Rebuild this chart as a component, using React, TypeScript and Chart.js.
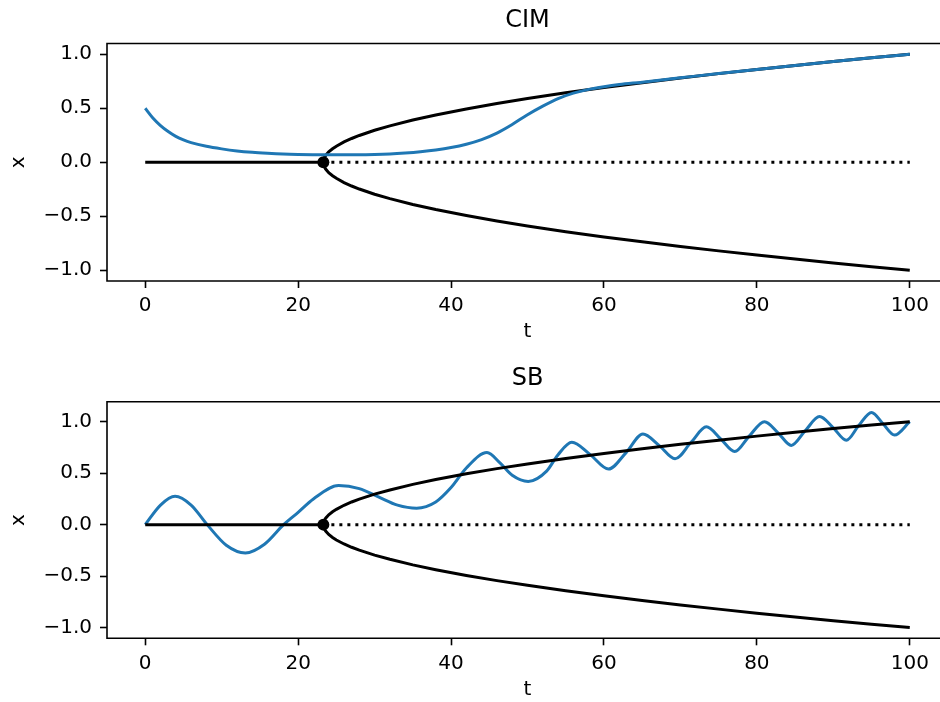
import React, { useEffect, useRef } from "react";
import { Chart, registerables } from "chart.js";

Chart.register(...registerables);

// ---- data ----
const xTicks = [0, 20, 40, 60, 80, 100];
const yTicks = [-1, -0.5, 0, 0.5, 1];

const bifT = 23.3;
const stableT = [0, 23.3];
const stableX = [0, 0];
const unstableT = [23.3, 100];
const unstableX = [0, 0];

const branchT = [23.3, 23.4, 23.6, 24, 24.5, 25, 26, 27, 28, 30, 32, 35, 38, 42, 46, 50, 55, 60, 65, 70, 75, 80, 85, 90, 95, 100];
const branchUpper = [0, 0.036, 0.063, 0.096, 0.125, 0.149, 0.188, 0.22, 0.248, 0.296, 0.337, 0.391, 0.438, 0.494, 0.544, 0.59, 0.643, 0.692, 0.737, 0.78, 0.821, 0.86, 0.897, 0.933, 0.967, 1.0];
const branchLower = [0, -0.036, -0.063, -0.096, -0.125, -0.149, -0.188, -0.22, -0.248, -0.296, -0.337, -0.391, -0.438, -0.494, -0.544, -0.59, -0.643, -0.692, -0.737, -0.78, -0.821, -0.86, -0.897, -0.933, -0.967, -1.0];

const cimT = [0, 1, 2, 3, 4, 5, 6, 8, 10, 12, 14, 16, 18, 20, 22, 24, 26, 28, 30, 32, 34, 36, 38, 40, 42, 44, 46, 48, 50, 52, 54, 56, 58, 60, 62, 65, 70, 75, 80, 85, 90, 95, 100];
const cimX = [0.5, 0.41, 0.34, 0.285, 0.24, 0.207, 0.182, 0.148, 0.124, 0.105, 0.092, 0.083, 0.076, 0.072, 0.07, 0.069, 0.069, 0.07, 0.072, 0.077, 0.086, 0.098, 0.114, 0.136, 0.167, 0.21, 0.27, 0.35, 0.44, 0.52, 0.59, 0.64, 0.675, 0.7, 0.72, 0.742, 0.782, 0.822, 0.86, 0.897, 0.933, 0.967, 1.0];

const sbT = [0, 2, 3.9, 6, 8.1, 10.6, 13.1, 15.6, 18.1, 20, 22, 25.3, 28, 30.5, 33, 35.5, 38, 40, 42, 44.7, 46.4, 48, 50.1, 52.5, 54, 55.8, 58.2, 60.6, 62.9, 65.1, 67.2, 69.3, 71.4, 73.4, 75.3, 77.1, 79, 81, 82.8, 84.5, 86.3, 88.2, 90, 91.7, 93.3, 95, 96.5, 98, 100];
const sbX = [0, 0.19, 0.275, 0.19, 0, -0.2, -0.275, -0.19, 0, 0.12, 0.25, 0.38, 0.35, 0.27, 0.19, 0.16, 0.22, 0.36, 0.55, 0.7, 0.6, 0.48, 0.42, 0.52, 0.68, 0.8, 0.68, 0.54, 0.7, 0.88, 0.77, 0.64, 0.8, 0.95, 0.83, 0.71, 0.86, 1.0, 0.89, 0.77, 0.91, 1.05, 0.94, 0.82, 0.96, 1.09, 0.98, 0.87, 1.0];

const BLUE = "#1f77b4";
const FONT = "DejaVu Sans";

const pts = (ts: number[], vs: number[]) => ts.map((t, i) => ({ x: t, y: vs[i] }));

// top, left and bottom spines (the right spine lies past the cropped edge)
const framePlugin = {
  id: "frame",
  afterDraw(chart: any) {
    const { ctx, chartArea } = chart;
    const { left, right, top, bottom } = chartArea;
    ctx.save();
    ctx.strokeStyle = "#000";
    ctx.lineWidth = 1.6;
    ctx.beginPath();
    ctx.moveTo(right + 1, top);
    ctx.lineTo(left, top);
    ctx.lineTo(left, bottom);
    ctx.lineTo(right + 1, bottom);
    ctx.stroke();
    ctx.restore();
  },
};

type Cfg = {
  title: string;
  blueT: number[];
  blueX: number[];
  yMin: number;
  yMax: number;
  xAxisHeight: number;
  titlePadTop: number;
  titlePadBottom: number;
  xTitlePadBottom: number;
  blueOnTop: boolean;
};

function makeConfig(c: Cfg): any {
  const black = { borderColor: "#000", borderWidth: 3, pointRadius: 0, tension: 0, fill: false };
  return {
    type: "line",
    data: {
      datasets: [
        { ...black, data: pts(branchT, branchUpper), order: 2 },
        { ...black, data: pts(branchT, branchLower), order: 2 },
        { ...black, data: pts(stableT, stableX), order: 2 },
        { ...black, data: pts(unstableT, unstableX), borderDash: [3, 5], borderCapStyle: "butt", order: 2 },
        {
          data: pts(c.blueT, c.blueX),
          borderColor: BLUE,
          borderWidth: 3,
          pointRadius: 0,
          cubicInterpolationMode: "monotone",
          fill: false,
          order: c.blueOnTop ? 0 : 5,
        },
        {
          data: [{ x: bifT, y: 0 }],
          showLine: false,
          pointRadius: 6,
          pointBackgroundColor: "#000",
          pointBorderColor: "#000",
          pointBorderWidth: 0,
          order: 1,
        },
      ],
    },
    options: {
      animation: false,
      responsive: false,
      devicePixelRatio: 1,
      layout: { padding: { left: 0, right: 12, top: 0, bottom: 0 } },
      plugins: {
        legend: { display: false },
        tooltip: { enabled: false },
        title: {
          display: true,
          text: c.title,
          color: "#000",
          fullSize: false,
          font: { family: FONT, size: 24, weight: "normal", lineHeight: 1.2 },
          padding: { top: c.titlePadTop, bottom: c.titlePadBottom },
        },
      },
      scales: {
        x: {
          type: "linear",
          min: -5,
          max: 105,
          afterBuildTicks: (s: any) => {
            s.ticks = xTicks.map((v) => ({ value: v }));
          },
          afterFit: (s: any) => {
            s.height = c.xAxisHeight;
          },
          ticks: {
            color: "#000",
            font: { family: FONT, size: 20 },
            padding: 6,
            maxRotation: 0,
            autoSkip: false,
            callback: (v: any) => String(v),
          },
          grid: { display: true, drawOnChartArea: false, drawTicks: true, tickLength: 7, tickWidth: 1.6, tickColor: "#000" },
          border: { display: false },
          title: {
            display: true,
            text: "t",
            color: "#000",
            font: { family: FONT, size: 20, lineHeight: 1.2 },
            padding: { top: 0, bottom: c.xTitlePadBottom },
          },
        },
        y: {
          type: "linear",
          min: c.yMin,
          max: c.yMax,
          afterBuildTicks: (s: any) => {
            s.ticks = yTicks.map((v) => ({ value: v }));
          },
          afterFit: (s: any) => {
            s.width = 107;
          },
          ticks: {
            color: "#000",
            font: { family: FONT, size: 20 },
            padding: 8,
            autoSkip: false,
            callback: (v: any) => (v < 0 ? "\u2212" : "") + Math.abs(v).toFixed(1),
          },
          grid: { display: true, drawOnChartArea: false, drawTicks: true, tickLength: 7, tickWidth: 1.6, tickColor: "#000" },
          border: { display: false },
          title: {
            display: true,
            text: "x",
            color: "#000",
            font: { family: FONT, size: 20, lineHeight: 1.2 },
            padding: { top: 7, bottom: 0 },
          },
        },
      },
    },
    plugins: [framePlugin],
  };
}

function Panel({ cfg }: { cfg: Cfg }) {
  const ref = useRef<HTMLCanvasElement | null>(null);
  useEffect(() => {
    if (!ref.current) return;
    const chart = new Chart(ref.current, makeConfig(cfg));
    return () => chart.destroy();
  }, []);
  return <canvas ref={ref} width={960} height={351} style={{ display: "block", width: 960, height: 351 }} />;
}

export default function App() {
  const top: Cfg = {
    title: "CIM",
    blueT: cimT,
    blueX: cimX,
    yMin: -1.1,
    yMax: 1.1,
    xAxisHeight: 70,
    titlePadTop: 6,
    titlePadBottom: 8.7,
    xTitlePadBottom: 7,
    blueOnTop: true,
  };
  const bottom: Cfg = {
    title: "SB",
    blueT: sbT,
    blueX: sbX,
    yMin: -1.1045,
    yMax: 1.1945,
    xAxisHeight: 63.7,
    titlePadTop: 13.3,
    titlePadBottom: 8.6,
    xTitlePadBottom: 0,
    blueOnTop: false,
  };
  return (
    <div style={{ position: "fixed", left: 0, top: 0, width: 940, height: 702, overflow: "hidden", background: "#fff" }}>
      <Panel cfg={top} />
      <Panel cfg={bottom} />
    </div>
  );
}
